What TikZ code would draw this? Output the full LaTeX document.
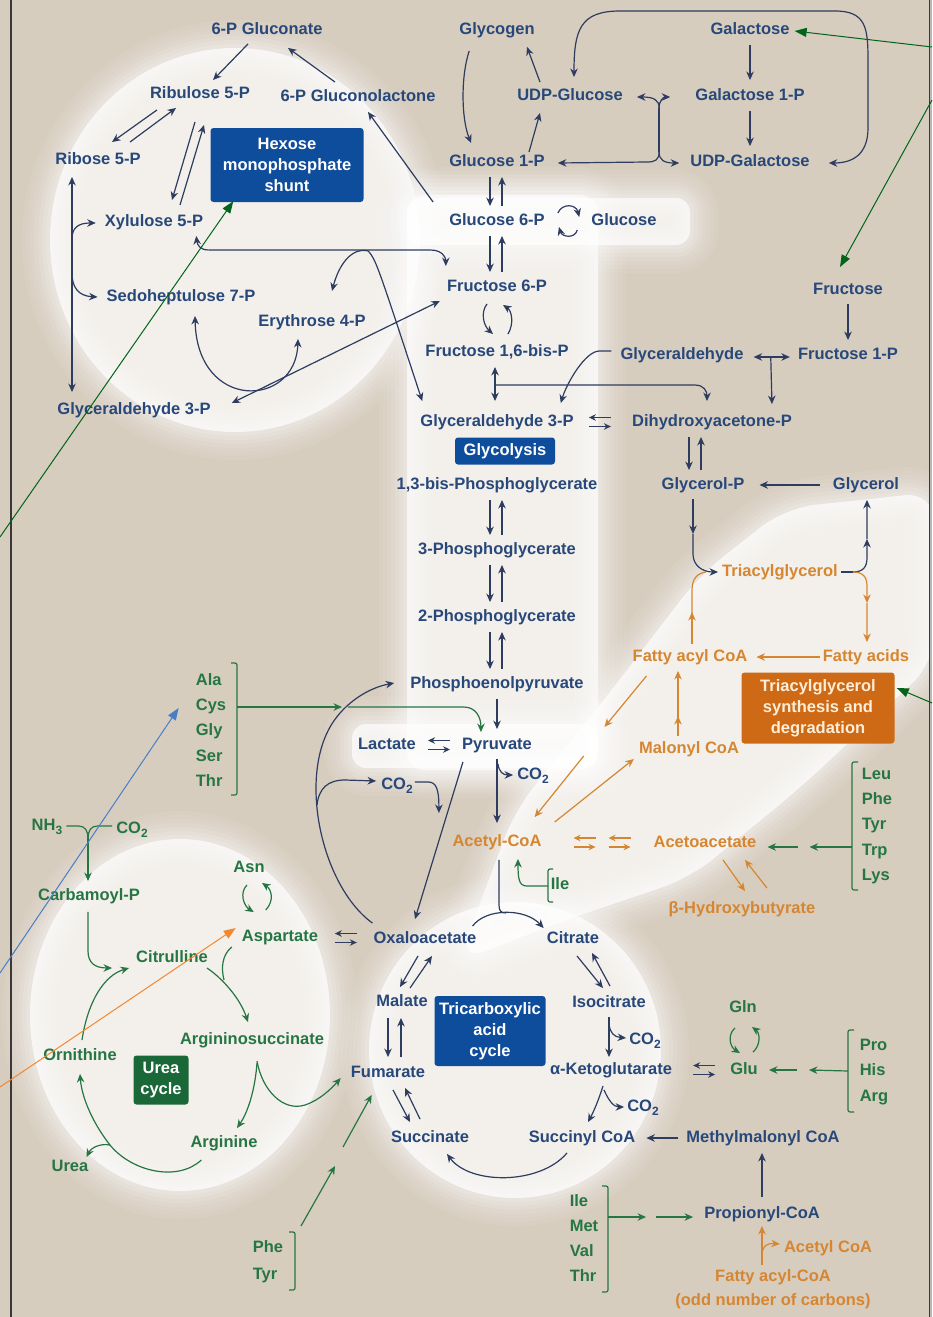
\documentclass[tikz,border=0pt]{standalone}
\usepackage{fontspec}
\setmainfont{Liberation Sans}
\usetikzlibrary{arrows.meta,calc}
\definecolor{bg}{RGB}{215,205,191}
\definecolor{tb}{RGB}{40,72,122}
\definecolor{lc}{RGB}{45,60,95}
\definecolor{tg}{RGB}{38,118,68}
\definecolor{to}{RGB}{214,134,48}
\definecolor{bxb}{RGB}{14,76,156}
\definecolor{bxg}{RGB}{26,104,56}
\definecolor{bxo}{RGB}{206,106,22}
\definecolor{boxt}{RGB}{255,238,215}
\definecolor{ag}{RGB}{0,100,25}
\definecolor{ab}{RGB}{72,126,200}
\definecolor{ao}{RGB}{242,136,48}
\newcommand\dsub[1]{\raisebox{-0.45ex}{\fontsize{12}{12}\selectfont #1}}
\newcommand\glow[2][]{\foreach \w/\o in {56/0.05,48/0.06,40/0.07,32/0.08,24/0.1,16/0.12,8/0.15}{\draw[white,line width=\w pt,opacity=\o,line join=round,#1] #2;}\fill[white,opacity=0.7,#1] #2;}
\newcommand\xchg[4][lc]{%
 \coordinate (xc) at ($(#2.east)!0.5!(#3.west)+(#4,0)$);
 \draw[draw=#1,line width=1.2pt,-{Stealth[length=7pt,width=6.5pt]}] ($(xc)+(11,-4.5)$) -- ($(xc)+(-11,-4.5)$);
 \draw[draw=#1,line width=1.2pt,-{Stealth[length=7pt,width=6.5pt]}] ($(xc)+(-11,4.5)$) -- ($(xc)+(11,4.5)$);}
\newcommand\dnup[2]{\draw[ln] ($(#1.south)+(-7,6)$) -- ($(#2.north)+(-7,-6)$); \draw[ln] ($(#2.north)+(5,-6)$) -- ($(#1.south)+(5,6)$);}
\tikzset{
 lbl/.style={font=\fontsize{16.5}{19}\selectfont\bfseries, inner sep=1pt, text height=12pt, text depth=3.5pt},
 bl/.style={lbl, text=tb},
 gr/.style={lbl, text=tg},
 orr/.style={lbl, text=to},
 stack/.style={font=\fontsize{16.5}{25.3}\selectfont\bfseries, align=left, inner sep=1pt},
 box/.style={rounded corners=3pt, font=\fontsize{16.5}{21}\selectfont\bfseries, text=white, align=center, inner sep=2pt},
 tip/.style={-{Stealth[length=8.5pt,width=7.5pt]}},
 dbl/.style={{Stealth[length=8.5pt,width=7.5pt]}-{Stealth[length=8.5pt,width=7.5pt]}},
 ln/.style={draw=lc, line width=1.2pt, tip},
 gln/.style={draw=tg, line width=1.2pt, tip},
 oln/.style={draw=to, line width=1.2pt, tip},
 brk/.style={draw=tg, line width=1.2pt, rounded corners=2pt},
 ann/.style={line width=1pt, -{Triangle[length=12pt,width=9pt]}},
}
\begin{document}
\begin{tikzpicture}[x=1pt,y=-1pt]
\useasboundingbox (0,0) rectangle (932,1317);
\fill[bg] (0,0) rectangle (932,1317);
% glows
\glow{(235,240) ellipse [x radius=185, y radius=192]}
\glow[rounded corners=18pt]{(407,195) rectangle (598,770)}
\glow[rounded corners=14pt]{(407,198) rectangle (690,245)}
\glow[rounded corners=14pt]{(352,724) rectangle (598,768)}
\glow[rounded corners=30pt]{(458,962) -- (515,810) -- (600,705) -- (700,575) -- (785,508) -- (935,492) -- (935,662) -- (800,788) -- (690,878) -- (560,922) -- cycle}
\glow{(180,1015) ellipse [x radius=150, y radius=176]}
\glow{(515,1050) ellipse [x radius=146, y radius=148]}
\fill[gray!55] (929,0) rectangle (932,1317);
\draw[gray!45!black,line width=1.4pt] (11,0) -- (11,1317);
\draw[gray!45!black,line width=1pt] (929,0) -- (929,1317);

% ---------- nodes ----------
\node[bl] (gluc6p) at (267,30) {6-P Gluconate};
\node[bl] (rib5) at (200,94) {Ribulose 5-P};
\node[bl] (glcl) at (358,97) {6-P Gluconolactone};
\node[bl] (ribose) at (98,160) {Ribose 5-P};
\node[box,fill=bxb,minimum width=153pt,minimum height=74pt] (hmp) at (287,165) {Hexose\\monophosphate\\shunt};
\node[bl] (xyl) at (154,222) {Xylulose 5-P};
\node[bl] (sed) at (181,297) {Sedoheptulose 7-P};
\node[bl] (ery) at (312,322) {Erythrose 4-P};
\node[bl] (ga3pL) at (134,410) {Glyceraldehyde 3-P};

\node[bl] (glycogen) at (497,30) {Glycogen};
\node[bl] (galactose) at (750,30) {Galactose};
\node[bl] (udpglc) at (570,96) {UDP-Glucose};
\node[bl] (gal1p) at (750,96) {Galactose 1-P};
\node[bl] (g1p) at (497,162) {Glucose 1-P};
\node[bl] (udpgal) at (750,162) {UDP-Galactose};
\node[bl] (g6p) at (497,221) {Glucose 6-P};
\node[bl] (glucose) at (624,221) {Glucose};
\node[bl] (fru6p) at (497,287) {Fructose 6-P};
\node[bl] (fructose) at (848,290) {Fructose};
\node[bl] (f16bp) at (497,352) {Fructose 1,6-bis-P};
\node[bl] (glyald) at (682,355) {Glyceraldehyde};
\node[bl] (fru1p) at (848,355) {Fructose 1-P};
\node[bl] (ga3p) at (497,422) {Glyceraldehyde 3-P};
\node[bl] (dhap) at (712,422) {Dihydroxyacetone-P};
\node[box,fill=bxb,minimum width=100pt,minimum height=27pt] (glyb) at (505,451) {Glycolysis};
\node[bl] (bpg) at (497,485) {1,3-bis-Phosphoglycerate};
\node[bl] (glycp) at (703,485) {Glycerol-P};
\node[bl] (glycerol) at (866,485) {Glycerol};
\node[bl] (pg3) at (497,550) {3-Phosphoglycerate};
\node[orr] (tag) at (780,572) {Triacylglycerol};
\node[bl] (pg2) at (497,617) {2-Phosphoglycerate};
\node[orr] (facoa) at (690,657) {Fatty acyl CoA};
\node[orr] (fa) at (866,657) {Fatty acids};
\node[bl] (pep) at (497,684) {Phosphoenolpyruvate};
\node[box,fill=bxo,text=boxt,minimum width=153pt,minimum height=71pt] (tagbox) at (818,708) {Triacylglycerol\\synthesis and\\degradation};
\node[bl] (lactate) at (387,745) {Lactate};
\node[bl] (pyruvate) at (497,745) {Pyruvate};
\node[orr] (malcoa) at (689,749) {Malonyl CoA};
\node[bl] (co2a) at (533,775) {CO\dsub{2}};
\node[bl] (co2p) at (397,785) {CO\dsub{2}};
\node[stack,text=tg] (ala) at (211,730) {Ala\\Cys\\Gly\\Ser\\Thr};
\node[stack,text=tg] (leu) at (877,826) {Leu\\Phe\\Tyr\\Trp\\Lys};
\node[orr] (acetylcoa) at (497,842) {Acetyl-CoA};
\node[orr] (acetoac) at (705,843) {Acetoacetate};
\node[orr] (bhb) at (742,909) {β-Hydroxybutyrate};
\node[gr] (ile) at (560,885) {Ile};
\node[gr] (asn) at (249,868) {Asn};
\node[gr] (aspartate) at (280,937) {Aspartate};
\node[bl] (oaa) at (425,939) {Oxaloacetate};
\node[bl] (citrate) at (573,939) {Citrate};
\node[bl] (malate) at (402,1002) {Malate};
\node[bl] (isocit) at (609,1003) {Isocitrate};
\node[box,fill=bxb,minimum width=111pt,minimum height=70pt] (tcab) at (490,1031) {Tricarboxylic\\acid\\cycle};
\node[bl] (co2b) at (645,1040) {CO\dsub{2}};
\node[bl] (akg) at (611,1070) {α-Ketoglutarate};
\node[bl] (fumarate) at (388,1073) {Fumarate};
\node[gr] (gln) at (743,1008) {Gln};
\node[gr] (glu) at (744,1070) {Glu};
\node[stack,text=tg] (pro) at (874,1072) {Pro\\His\\Arg};
\node[bl] (co2c) at (643,1107) {CO\dsub{2}};
\node[bl] (succinate) at (430,1138) {Succinate};
\node[bl] (succoa) at (582,1138) {Succinyl CoA};
\node[bl] (mmcoa) at (763,1138) {Methylmalonyl CoA};
\node[bl] (propcoa) at (762,1214) {Propionyl-CoA};
\node[stack,text=tg] (ileg) at (584,1238) {Ile\\Met\\Val\\Thr};
\node[orr] (acetylcoa2) at (828,1248) {Acetyl CoA};
\node[orr] (facoa2) at (773,1277) {Fatty acyl-CoA};
\node[orr] (odd) at (773,1301) {(odd number of carbons)};
\node[stack,text=tg,font=\fontsize{16.5}{27}\selectfont\bfseries] (phetyr) at (268,1262) {Phe\\Tyr};
\node[gr] (nh3) at (47,826) {NH\dsub{3}};
\node[gr] (co2u) at (132,829) {CO\dsub{2}};
\node[gr] (carbp) at (89,896) {Carbamoyl-P};
\node[gr] (citrulline) at (172,958) {Citrulline};
\node[gr] (argsucc) at (252,1040) {Argininosuccinate};
\node[gr] (ornithine) at (80,1056) {Ornithine};
\node[box,fill=bxg,minimum width=55pt,minimum height=49pt] (ureab) at (161,1080) {Urea\\cycle};
\node[gr] (arginine) at (224,1143) {Arginine};
\node[gr] (urea) at (70,1167) {Urea};

% ---------- HMP shunt ----------
\draw[ln] ($(gluc6p.south)+(-19,5)$) -- ($(rib5.north)+(13,-5)$);
\draw[ln] ($(glcl.north)+(-23,-6)$) -- ($(gluc6p.south)+(21,9)$);
\draw[ln] ($(g6p.north west)+(-15,-10)$) -- ($(glcl.south)+(10,6)$);
\draw[ln] ($(rib5.south)+(-43,7)$) -- ($(ribose.north)+(14,-9)$);
\draw[ln] ($(ribose.north)+(32,-9)$) -- ($(rib5.south)+(-24,5)$);
\draw[ln] ($(rib5.south)+(-5,19)$) -- ($(xyl.north)+(18,-13)$);
\draw[ln] ($(xyl.north)+(26,-8)$) -- ($(rib5.south)+(4,22)$);
\draw[ln,dbl] ($(ribose.south)+(-26,8)$) -- ($(ga3pL.north)+(-62,-9)$);
\coordinate (rb1) at ($(ribose.south)+(-26,70)$);
\coordinate (rb2) at ($(ribose.south)+(-26,104)$);
\draw[ln] (rb1) .. controls ($(rb1)+(0,-11)$) and ($(rb1)+(6,-16)$) .. ($(xyl.west)+(-8,1)$);
\draw[ln] (rb2) .. controls ($(rb2)+(0,14)$) and ($(rb2)+(6,23)$) .. ($(sed.west)+(-8,0)$);
\coordinate (hj) at ($(xyl.south east)+(4,19)$);
\draw[ln] (hj) .. controls ($(hj)+(-8,0)$) and ($(hj)+(-11,-5)$) .. ($(xyl.south east)+(-8,5)$);
\draw[ln] (hj) -- ($(fru6p.north west)+(-15,-28)$) .. controls ($(fru6p.north west)+(-5,-28)$) and ($(fru6p.north west)+(0,-22)$) .. ($(fru6p.north west)+(0,-12)$);
\coordinate (ej) at ($(hj)+(160,1)$);
\draw[ln] (ej) .. controls ($(ej)+(-18,-4)$) and ($(ej)+(-30,16)$) .. ($(ery.north)+(20,-22)$);
\draw[ln] (ej) .. controls ($(ej)+(8,10)$) .. ($(ga3p.north west)+(3,-12)$);
\draw[ln,dbl] ($(sed.south)+(14,10)$) .. controls (197,412) and (296,408) .. ($(ery.south)+(-14,8)$);
\draw[ln,dbl] ($(ga3pL.east)+(20,-7)$) -- ($(fru6p.west)+(-6,14)$);

% ---------- glycogen / galactose ----------
\draw[ln] ($(glycogen.south west)+(11,12)$) .. controls (461,75) and (461,118) .. ($(g1p.north west)+(23,-10)$);
\draw[ln] ($(udpglc.north)+(-30,-5)$) -- ($(glycogen.south)+(30,8)$);
\draw[ln] ($(g1p.north)+(32,-1)$) -- ($(udpglc.south)+(-30,8)$);
\draw[ln,dbl] ($(udpglc.north)+(4,-10)$) .. controls (574,30) and (580,11) .. (620,11) -- (835,11) .. controls (866,11) and (868,28) .. (868,60) -- (868,128) .. controls (868,155) and (852,163) .. ($(udpgal.east)+(18,1)$);
\draw[ln,shorten <=6pt,shorten >=7pt] (galactose) -- (gal1p);
\draw[ln,shorten <=6pt,shorten >=7pt] (gal1p) -- (udpgal);
\draw[ln,shorten <=5pt,shorten >=6pt] (fructose) -- (fru1p);
\coordinate (bt) at ($(udpglc.east)!0.5!(gal1p.west)+(0,12)$);
\coordinate (bb) at ($(bt)+(0,44)$);
\draw[lc,line width=1.2pt] (bt) -- (bb);
\draw[ln] (bt) .. controls ($(bt)+(0,-8)$) and ($(bt)+(-5,-11)$) .. ($(udpglc.east)+(13,1)$);
\draw[ln] (bt) .. controls ($(bt)+(0,-8)$) and ($(bt)+(5,-11)$) .. ($(gal1p.west)+(-24,1)$);
\draw[ln] (bb) .. controls ($(bb)+(0,8)$) and ($(bb)+(-4,10)$) .. ($(bb)+(-12,10)$) -- ($(g1p.east)+(12,1)$);
\draw[ln] (bb) .. controls ($(bb)+(0,8)$) and ($(bb)+(5,11)$) .. ($(udpgal.west)+(-10,1)$);

% ---------- glycolysis ----------
\draw[ln] ($(g6p.east)+(12,-8)$) .. controls (562,203) and (576,204) .. ($(glucose.west)+(-11,-4)$);
\draw[ln] ($(glucose.west)+(-13,9)$) .. controls (575,239) and (562,237) .. ($(g6p.east)+(13,6)$);
\dnup{g1p}{g6p}
\dnup{g6p}{fru6p}
\dnup{bpg}{pg3}
\dnup{pg3}{pg2}
\dnup{pg2}{pep}
\draw[ln] ($(dhap.south)+(-23,6)$) -- ($(glycp.north)+(-14,-6)$);
\draw[ln] ($(glycp.north)+(-2,-6)$) -- ($(dhap.south)+(-11,6)$);
\draw[ln] ($(fru6p.south)+(-10,8)$) .. controls (480,313) and (484,326) .. ($(f16bp.north)+(-4,-9)$);
\draw[ln] ($(f16bp.north)+(11,-9)$) .. controls (514,324) and (512,311) .. ($(fru6p.south)+(6,9)$);
\draw[ln,dbl] ($(f16bp.south)+(-2,6)$) -- ($(ga3p.north)+(-2,-12)$);
\coordinate (fj) at ($(f16bp.south)+(-2,24)$);
\draw[ln] (fj) -- ($(dhap.north)+(-17,-28)$) .. controls ($(dhap.north)+(-8,-28)$) and ($(dhap.north)+(-5,-22)$) .. ($(dhap.north)+(-5,-12)$);
\draw[ln] ($(glyald.west)+(-8,-4)$) -- ($(glyald.west)+(-20,-4)$) .. controls ($(glyald.west)+(-34,-4)$) and ($(ga3p.north east)+(-8,-30)$) .. ($(ga3p.north east)+(-14,-10)$);
\draw[ln,dbl] ($(glyald.east)+(9,2)$) -- ($(fru1p.west)+(-7,2)$);
\draw[ln] ($(glyald.east)!0.5!(fru1p.west)+(0,2)$) -- ($(dhap.north east)+(-21,-9)$);
\xchg{ga3p}{dhap}{-3}
\draw[ln] ($(glycerol.west)+(-12,0)$) -- ($(glycp.east)+(14,0)$);
\draw[ln,shorten <=6pt,shorten >=7pt] (pep) -- (pyruvate);
\xchg{lactate}{pyruvate}{0}

% ---------- lipids ----------
\draw[ln] ($(glycp.south)+(-10,5)$) -- ($(glycp.south)+(-10,40)$);
\draw[ln] ($(glycp.south)+(-10,40)$) -- ($(glycp.south)+(-10,60)$) .. controls ($(glycp.south)+(-10,72)$) and ($(tag.west)+(-18,0)$) .. ($(tag.west)+(-3,0)$);
\draw[oln] ($(facoa.north)+(2,-4)$) -- ($(facoa.north)+(2,-36)$);
\draw[to,line width=1.2pt] ($(facoa.north)+(2,-34)$) -- ($(facoa.north)+(2,-58)$) .. controls ($(facoa.north)+(2,-70)$) and ($(facoa.north)+(8,-75)$) .. ($(facoa.north)+(16,-76)$);
\coordinate (tj) at ($(tag.east)+(14,0)$);
\draw[lc,line width=1.2pt] ($(tag.east)+(2,0)$) -- (tj);
\draw[ln] (tj) .. controls ($(tj)+(10,0)$) and ($(tj)+(14,-5)$) .. ($(tj)+(14,-14)$) -- ($(tj)+(14,-33)$);
\draw[ln] ($(tj)+(14,-33)$) -- ($(glycerol.south)+(1,6)$);
\draw[oln] (tj) .. controls ($(tj)+(10,0)$) and ($(tj)+(14,5)$) .. ($(tj)+(14,14)$) -- ($(tj)+(14,31)$);
\draw[oln] ($(tj)+(14,31)$) -- ($(fa.north)+(1,-6)$);
\draw[oln] ($(fa.west)+(-2,0)$) -- ($(facoa.east)+(8,0)$);
\draw[oln] ($(malcoa.north)+(-11,-4)$) -- ($(malcoa.north)+(-11,-24)$);
\draw[oln] ($(malcoa.north)+(-11,-22)$) -- ($(facoa.south)+(-12,5)$);
\draw[oln] ($(facoa.south west)+(15,10)$) -- ($(facoa.south west)+(-27,61)$);
\draw[oln] ($(acetylcoa.north east)+(41,-77)$) -- ($(acetylcoa.north east)+(-8,-16)$);
\draw[oln] ($(acetylcoa.north east)+(12,-11)$) -- ($(malcoa.west)+(-4,10)$);
\xchg[to]{acetylcoa}{acetoac}{-13}
\xchg[to]{acetylcoa}{acetoac}{22}
\draw[oln] ($(acetoac.south)+(18,8)$) -- ($(bhb.north)+(3,-9)$);
\draw[oln] ($(bhb.north)+(25,-12)$) -- ($(acetoac.south)+(40,8)$);
\draw[brk] ($(leu)+(-19,-64)$) -- ++(-6,0) -- ++(0,128) -- ++(6,0);
\draw[gln] ($(leu)+(-25,21)$) -- ($(acetoac.east)+(52,4)$);
\draw[gln] ($(acetoac.east)+(40,4)$) -- ($(acetoac.east)+(10,4)$);

% ---------- pyruvate region ----------
\draw[ln] ($(pyruvate.south)+(0,5)$) -- ($(acetylcoa.north)+(0,-10)$);
\draw[ln] ($(pyruvate.south)+(1,10)$) .. controls ($(pyruvate.south)+(2,18)$) and ($(pyruvate.south)+(6,21)$) .. ($(co2a.west)+(-3,0)$);
\draw[ln] ($(pyruvate.south west)+(2,8)$) -- ($(oaa.north)+(-10,-11)$);
\draw[ln] ($(oaa.north west)+(0,-7)$) .. controls (320,885) and (296,770) .. (336,718) .. controls (348,702) and (368,688) .. ($(pep.west)+(-15,-1)$);
\coordinate (cb) at (317,805);
\draw[ln] (cb) .. controls (319,788) and (328,780) .. (345,780) -- ($(co2p.west)+(-4,-4)$);
\draw[ln] ($(co2p.east)+(1,-3)$) -- ($(co2p.east)+(14,-3)$) .. controls ($(co2p.east)+(22,-3)$) and ($(co2p.east)+(25,3)$) .. ($(co2p.east)+(25,28)$);
\draw[brk] ($(ala)+(20,-67)$) -- ++(6,0) -- ++(0,132) -- ++(-6,0);
\coordinate (aj) at ($(ala)+(131,-23)$);
\draw[gln] ($(ala)+(26,-23)$) -- (aj);
\draw[gln] ($(aj)+(6,0)$) -- ($(pyruvate.north west)+(3,-29)$) .. controls ($(pyruvate.north west)+(14,-29)$) and ($(pyruvate.north west)+(20,-20)$) .. ($(pyruvate.north west)+(20,-4)$);
\draw[lc,line width=1.2pt] ($(acetylcoa.south)+(2,9)$) -- ($(acetylcoa.south)+(2,54)$) .. controls ($(acetylcoa.south)+(2,60)$) and ($(acetylcoa.south)+(4,62)$) .. ($(acetylcoa.south)+(9,62)$);
\draw[ln] ($(oaa.north east)+(-5,-4)$) .. controls (486,908) and (525,908) .. ($(citrate.north west)+(-2,-2)$);
\draw[brk] ($(ile)+(-7,-16)$) -- ++(-5,0) -- ++(0,33) -- ++(5,0);
\draw[gln] ($(ile)+(-12,1)$) -- ($(ile)+(-33,1)$) .. controls ($(ile)+(-41,1)$) and ($(ile)+(-42,-6)$) .. ($(acetylcoa.south)+(21,8)$);

% ---------- TCA ----------
\xchg{aspartate}{oaa}{0}
\draw[gln] ($(asn.south)+(-2,8)$) .. controls (239,893) and (244,906) .. ($(aspartate.north west)+(13,-16)$);
\draw[gln] ($(aspartate.north west)+(25,-18)$) .. controls (275,900) and (271,889) .. ($(asn.south)+(13,6)$);
\draw[ln] ($(oaa.south)+(-7,8)$) -- ($(malate.north)+(-2,-6)$);
\draw[ln] ($(malate.north)+(8,-5)$) -- ($(oaa.south)+(7,8)$);
\draw[ln] ($(malate.south)+(-14,7)$) -- ($(fumarate.north)+(0,-7)$);
\draw[ln] ($(fumarate.north)+(13,-7)$) -- ($(malate.south)+(-1,7)$);
\draw[ln] ($(fumarate.south)+(5,8)$) -- ($(succinate.north)+(-20,-7)$);
\draw[ln] ($(succinate.north)+(-10,-10)$) -- ($(fumarate.south)+(17,6)$);
\draw[ln] ($(succoa.south)+(-15,6)$) .. controls (540,1185) and (470,1185) .. ($(succinate.south)+(17,7)$);
\draw[ln] ($(citrate.south)+(4,8)$) -- ($(isocit.north)+(-6,-6)$);
\draw[ln] ($(isocit.north)+(1,-8)$) -- ($(citrate.south)+(19,5)$);
\draw[ln] ($(isocit.south)+(0,5)$) -- ($(akg.north)+(-2,-4)$);
\draw[ln] ($(isocit.south)+(0,12)$) .. controls ($(isocit.south)+(1,21)$) and ($(isocit.south)+(5,25)$) .. ($(co2b.west)+(-2,-2)$);
\draw[ln] ($(akg.south)+(-8,7)$) .. controls ($(akg.south)+(-12,20)$) and ($(akg.south)+(-17,32)$) .. ($(succoa.north)+(6,-7)$);
\draw[ln] ($(akg.south)+(-7,11)$) .. controls ($(akg.south)+(-3,20)$) and ($(akg.south)+(2,28)$) .. ($(co2c.west)+(-2,0)$);
\xchg{akg}{glu}{3}
\draw[gln] ($(gln.south)+(-8,11)$) .. controls (727,1035) and (730,1047) .. ($(glu.north)+(-4,-8)$);
\draw[gln] ($(glu.north)+(9,-9)$) .. controls (761,1045) and (760,1033) .. ($(gln.south)+(9,10)$);
\draw[brk] ($(pro)+(-20,-42)$) -- ++(-6,0) -- ++(0,82) -- ++(6,0);
\draw[gln] ($(pro)+(-26,-1)$) -- ($(glu.east)+(50,0)$);
\draw[gln] ($(glu.east)+(38,0)$) -- ($(glu.east)+(10,0)$);
\draw[ln] ($(mmcoa.west)+(-7,0)$) -- ($(succoa.east)+(10,0)$);
\draw[ln] ($(propcoa.north)+(0,-8)$) -- ($(mmcoa.south)+(-1,6)$);
\draw[brk] ($(ileg)+(18,-52)$) -- ++(6,0) -- ++(0,106) -- ++(-6,0);
\draw[gln] ($(ileg)+(24,-21)$) -- ($(propcoa.west)+(-57,3)$);
\draw[gln] ($(propcoa.west)+(-47,3)$) -- ($(propcoa.west)+(-10,3)$);
\draw[oln] ($(facoa2.north)+(-11,-3)$) -- ($(propcoa.south)+(0,3)$);
\draw[oln] ($(facoa2.north)+(-11,-14)$) .. controls ($(facoa2.north)+(-10,-22)$) and ($(facoa2.north)+(-7,-25)$) .. ($(acetylcoa2.west)+(-3,-4)$);
\draw[brk] ($(phetyr)+(21,-30)$) -- ++(6,0) -- ++(0,58) -- ++(-6,0);
\draw[gln] ($(phetyr)+(33,-36)$) -- ($(phetyr)+(67,-96)$);
\draw[gln] ($(phetyr)+(75,-115)$) -- ($(fumarate.south west)+(22,13)$);

% ---------- urea cycle ----------
\draw[gln] ($(argsucc.south)+(5,12)$) .. controls (262,1090) and (283,1112) .. (305,1105) .. controls (320,1100) and (332,1088) .. ($(fumarate.west)+(-9,5)$);
\draw[gln] ($(argsucc.south)+(5,14)$) .. controls (255,1090) and (248,1112) .. ($(arginine.north)+(13,-6)$);
\draw[gln] ($(citrulline.east)+(-2,10)$) .. controls (222,978) and (240,998) .. ($(argsucc.north)+(-4,-9)$);
\draw[tg,line width=1.2pt] ($(aspartate.south west)+(-9,1)$) .. controls (222,955) and (221,968) .. (224,980);
\draw[gln] ($(carbp.south)+(-1,7)$) -- ($(carbp.south)+(-1,46)$) .. controls ($(carbp.south)+(-1,58)$) and ($(carbp.south)+(6,63)$) .. ($(citrulline.west)+(-23,10)$);
\draw[gln] ($(ornithine.north)+(2,-7)$) .. controls (88,1000) and (105,975) .. ($(citrulline.west)+(-6,10)$);
\coordinate (ub) at (110,1145);
\draw[gln] ($(arginine.south west)+(12,8)$) .. controls (178,1182) and (132,1172) .. (ub) .. controls (95,1126) and (82,1100) .. ($(ornithine.south)+(0,9)$);
\draw[gln] (ub) .. controls (100,1143) and (91,1148) .. ($(urea.north east)+(-3,-1)$);
\coordinate (nj) at ($(carbp.north)+(-1,-49)$);
\draw[tg,line width=1.2pt] ($(nh3.east)+(3,0)$) -- ($(nj)+(-9,-12)$) .. controls ($(nj)+(-3,-12)$) and ($(nj)+(0,-7)$) .. (nj);
\draw[tg,line width=1.2pt] ($(co2u.west)+(-3,-3)$) -- ($(nj)+(9,-12)$) .. controls ($(nj)+(3,-12)$) and ($(nj)+(0,-7)$) .. (nj);
\draw[gln] (nj) -- ($(carbp.north)+(-1,-6)$);

% ---------- annotation pointers ----------
\coordinate (e1) at (932,47);
\coordinate (e2) at (932,100);
\coordinate (e3) at (0,537);
\coordinate (e4) at (932,703);
\coordinate (e5) at (0,973);
\coordinate (e6) at (0,1087);
\draw[ann,draw=ag] (e1) -- ($(galactose.east)+(4,1)$);
\draw[ann,draw=ag] (e2) -- ($(fructose.north)+(-8,-14)$);
\draw[ann,draw=ag] (e3) -- ($(hmp.south west)+(23,-1)$);
\draw[ann,draw=ag] (e4) -- ($(tagbox.east)+(2,-20)$);
\draw[ann,draw=ab] (e5) -- ($(ala.west)+(-16,-22)$);
\draw[ann,draw=ao] (e6) -- ($(aspartate.west)+(-5,-9)$);
\end{tikzpicture}
\end{document}
